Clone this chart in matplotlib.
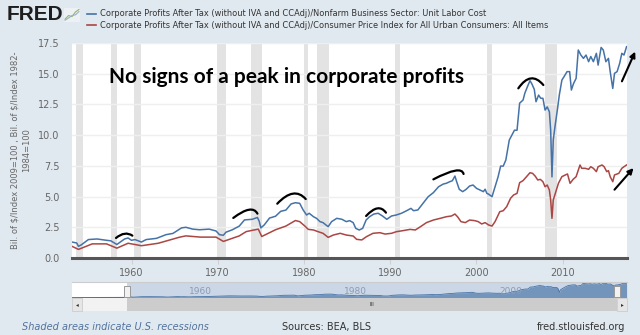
import numpy as np
import matplotlib
matplotlib.use('Agg')
import matplotlib.pyplot as plt
from matplotlib.patches import Rectangle, PathPatch
from matplotlib.path import Path

# Series (year, value)
blue_x = [1953.1, 1953.65, 1953.85, 1954.2, 1955.0, 1956.0, 1957.1, 1957.6, 1958.3, 1959.2, 1959.6, 1960.0,
          1960.4, 1961.15, 1961.7, 1962.9, 1964.0, 1964.8, 1965.8, 1966.3, 1967.1, 1967.9, 1969.0, 1969.8,
          1970.2, 1970.65, 1970.95, 1971.7, 1972.5, 1973.1, 1974.0, 1974.6, 1974.8, 1975.0, 1975.4, 1976.0,
          1976.7, 1977.3, 1977.9, 1978.5, 1979.0, 1979.5, 1979.9, 1980.3, 1980.6, 1981.1, 1981.45, 1981.85,
          1982.2, 1982.8, 1983.2, 1983.8, 1984.4, 1984.9, 1985.3, 1985.7, 1986.0, 1986.4, 1986.8, 1987.2,
          1987.6, 1988.1, 1988.6, 1989.1, 1989.6, 1990.15, 1990.7, 1991.3, 1991.9, 1992.4, 1992.7, 1993.2,
          1993.8, 1994.4, 1995.0, 1995.6, 1996.15, 1996.5, 1996.9, 1997.2, 1997.5, 1997.7, 1998.0, 1998.4,
          1998.8, 1999.2, 1999.6, 2000.0, 2000.4, 2000.8, 2001.0, 2001.2, 2001.4, 2001.8, 2002.15, 2002.5,
          2002.8, 2003.1, 2003.4, 2003.8, 2004.1, 2004.4, 2004.7, 2005.0, 2005.4, 2005.6, 2005.9, 2006.2,
          2006.4, 2006.7, 2006.9, 2007.2, 2007.45, 2007.7, 2007.95, 2008.2, 2008.45, 2008.6, 2008.75, 2008.9,
          2009.1, 2009.4, 2009.6, 2009.9, 2010.15, 2010.5, 2010.8, 2011.0, 2011.25, 2011.55, 2011.8, 2012.1,
          2012.4, 2012.7, 2013.0, 2013.25, 2013.55, 2013.9, 2014.1, 2014.45, 2014.7, 2015.0, 2015.3, 2015.5,
          2015.8, 2016.0, 2016.3, 2016.6, 2016.85, 2017.1, 2017.4]
blue_y = [1.3, 1.22, 0.95, 1.08, 1.5, 1.55, 1.44, 1.4, 1.1, 1.55, 1.63, 1.44,
          1.5, 1.3, 1.5, 1.6, 1.9, 2.0, 2.45, 2.5, 2.35, 2.3, 2.35, 2.2,
          1.9, 1.85, 2.1, 2.3, 2.6, 3.1, 3.15, 3.3, 3.0, 2.45, 2.7, 3.25,
          3.4, 3.8, 3.9, 4.4, 4.5, 4.45, 3.91, 3.5, 3.64, 3.36, 3.23, 2.96,
          2.88, 2.55, 2.96, 3.23, 3.15, 2.96, 3.04, 2.88, 2.41, 2.28, 2.41, 3.09,
          3.36, 3.58, 3.64, 3.42, 3.15, 3.42, 3.5, 3.64, 3.85, 4.04, 3.85, 3.91,
          4.45, 4.99, 5.32, 5.8, 6.02, 6.08, 6.21, 6.29, 6.67, 6.21, 5.59, 5.4,
          5.59, 5.86, 5.94, 5.67, 5.53, 5.4, 5.6, 5.26, 5.2, 4.99, 5.8, 6.6,
          7.48, 7.48, 7.97, 9.6, 10.0, 10.4, 10.4, 12.6, 12.86, 13.4, 13.94, 14.43,
          14.2, 13.73, 12.72, 13.26, 13.0, 13.0, 12.04, 12.3, 11.9, 10.4, 6.6, 9.6,
          10.7, 12.18, 13.26, 14.48, 14.76, 15.17, 15.17, 13.67, 14.2, 14.62, 16.93, 16.52,
          16.25, 16.52, 15.98, 16.4, 15.98, 16.66, 15.7, 17.14, 16.93, 15.98, 16.25, 15.17,
          13.8, 15.03, 15.17, 15.84, 16.66, 16.52, 17.2]

red_x = [1953.1, 1953.85, 1955.45, 1957.1, 1958.3, 1959.6, 1961.15, 1963.1, 1965.6, 1966.3, 1968.0, 1969.8,
         1970.65, 1972.5, 1973.3, 1974.7, 1975.1, 1976.7, 1977.9, 1979.0, 1979.5, 1980.1, 1980.5, 1981.1,
         1981.65, 1982.2, 1982.8, 1983.4, 1984.2, 1984.9, 1985.7, 1986.1, 1986.7, 1987.25, 1988.0, 1988.8,
         1989.4, 1990.15, 1990.7, 1991.5, 1992.3, 1992.9, 1993.4, 1994.2, 1995.0, 1995.8, 1996.5, 1997.1,
         1997.5, 1997.8, 1998.2, 1998.7, 1999.2, 1999.8, 2000.2, 2000.6, 2001.0, 2001.4, 2001.8, 2002.15,
         2002.7, 2003.1, 2003.5, 2003.95, 2004.3, 2004.7, 2005.0, 2005.4, 2005.8, 2006.2, 2006.5, 2006.8,
         2007.1, 2007.4, 2007.7, 2007.95, 2008.2, 2008.45, 2008.6, 2008.75, 2008.9, 2009.2, 2009.5, 2009.9,
         2010.3, 2010.55, 2010.85, 2011.2, 2011.55, 2012.0, 2012.2, 2012.6, 2013.0, 2013.25, 2013.55, 2013.9,
         2014.1, 2014.55, 2014.8, 2015.1, 2015.3, 2015.5, 2015.8, 2016.0, 2016.5, 2016.85, 2017.1, 2017.4]
red_y = [0.95, 0.7, 1.15, 1.15, 0.8, 1.2, 1.0, 1.2, 1.7, 1.8, 1.7, 1.7,
         1.35, 1.8, 2.15, 2.35, 1.75, 2.3, 2.6, 3.05, 2.96, 2.6, 2.33, 2.28,
         2.14, 2.01, 1.68, 1.87, 2.01, 1.87, 1.79, 1.52, 1.47, 1.74, 2.01, 2.06,
         1.95, 2.01, 2.14, 2.23, 2.33, 2.28, 2.5, 2.88, 3.09, 3.23, 3.36, 3.42,
         3.58, 3.36, 2.96, 2.88, 3.09, 3.04, 2.96, 2.77, 2.88, 2.69, 2.6, 2.96,
         3.77, 3.85, 4.18, 4.86, 5.13, 5.26, 6.13, 6.3, 6.62, 6.94, 6.89, 6.67,
         6.35, 6.4, 6.21, 5.8, 5.94, 5.53, 4.72, 3.23, 4.72, 5.4, 6.08, 6.62,
         6.76, 6.84, 6.08, 6.4, 6.62, 7.57, 7.3, 7.3, 7.22, 7.43, 7.3, 7.03,
         7.43, 7.57, 7.43, 7.03, 7.11, 6.62, 6.21, 6.76, 6.89, 7.3, 7.43, 7.57]

recessions = [(1953.6, 1954.35), (1957.6, 1958.3), (1960.3, 1961.1), (1969.9, 1970.9), (1973.9, 1975.1),
              (1980.0, 1980.5), (1981.5, 1982.85), (1990.5, 1991.15), (2001.2, 2001.85), (2007.9, 2009.35)]

# hand-drawn arcs: start, peak, end
arcs = [[(1958.2, 1.63), (1959.2, 1.98), (1960.1, 1.82)],
        [(1971.8, 3.26), (1973.6, 3.93), (1974.6, 3.61)],
        [(1976.9, 4.42), (1978.7, 5.24), (1980.2, 4.80)],
        [(1987.2, 3.42), (1988.5, 4.04), (1989.5, 3.69)],
        [(1995.0, 6.40), (1997.5, 7.11), (1998.5, 6.84)],
        [(2004.85, 13.81), (2006.3, 14.62), (2007.75, 14.08)]]
arrows = [((2016.86, 14.38), (2018.4, 16.8)), ((2016.0, 5.56), (2018.2, 7.32))]

yticks = [0.0, 2.5, 5.0, 7.5, 10.0, 12.5, 15.0, 17.5]
xticks = [1960, 1970, 1980, 1990, 2000, 2010]
nav_ticks = [1960, 1980, 2000]
legend_labels = ['Corporate Profits After Tax (without IVA and CCAdj)/Nonfarm Business Sector: Unit Labor Cost',
                 'Corporate Profits After Tax (without IVA and CCAdj)/Consumer Price Index for All Urban Consumers: All Items']
BLUE = '#4572a7'
RED = '#aa4643'
BG = '#e1e9f0'
W, H = 640, 335

fig = plt.figure(figsize=(6.4, 3.35), dpi=100, facecolor=BG)
ax = fig.add_axes([72 / W, (H - 258) / H, 555 / W, 215 / H])
ax.set_facecolor('white')
for a, b in recessions:
    ax.axvspan(a, b, color='#e3e3e3', lw=0, zorder=0)
for t in yticks[1:]:
    ax.axhline(t, color='#efefef', lw=1, zorder=0.5)
ax.plot(blue_x, blue_y, color=BLUE, lw=1.1, zorder=3)
ax.plot(red_x, red_y, color=RED, lw=1.1, zorder=3)
ax.set_xlim(1953.1, 2017.45)
ax.set_ylim(0, 17.5)
ax.set_yticks(yticks)
ax.set_yticklabels([f'{t:.1f}' for t in yticks])
ax.set_xticks(xticks)
ax.tick_params(axis='y', length=0, pad=9, labelsize=7, labelcolor='#666666')
ax.tick_params(axis='x', length=4, color='#d0d0d0', pad=3, labelsize=7, labelcolor='#666666')
for s in ['top', 'right', 'left']:
    ax.spines[s].set_visible(False)
ax.spines['bottom'].set_color('#555555')
ax.spines['bottom'].set_linewidth(2.2)
ax.set_ylabel('Bil. of \\$/Index 2009=100 , Bil. of \\$/Index 1982-\n1984=100', fontsize=6.0,
              color='#666666', labelpad=5, linespacing=1.3)

# annotations
for (p0, pk, p1) in arcs:
    p0, pk, p1 = np.array(p0), np.array(pk), np.array(p1)
    ctrl = 2 * pk - (p0 + p1) / 2
    path = Path([p0, ctrl, p1], [Path.MOVETO, Path.CURVE3, Path.CURVE3])
    ax.add_patch(PathPatch(path, fc='none', ec='black', lw=1.6, capstyle='round', zorder=5))
for (s, e) in arrows:
    ax.annotate('', xy=e, xytext=s, annotation_clip=False,
                arrowprops=dict(arrowstyle='-|>', color='black', lw=1.5, mutation_scale=8, shrinkA=0, shrinkB=0))
ax.text(1957.4, 14.75, 'No signs of a peak in corporate profits', fontsize=15, fontweight='bold',
        family=['Lato', 'DejaVu Sans'], color='black', va='center', ha='left', zorder=6)

# header
fig.text(7 / W, 1 - 15 / H, 'FRED', fontsize=15, fontweight='bold', color='#1e1e1e', va='center',
         family=['Liberation Sans', 'DejaVu Sans'])
icon = fig.add_axes([64 / W, 1 - 22 / H, 16 / W, 14 / H])
icon.set_facecolor('#eef1f4')
icon.plot([0, 1, 2, 3, 4], [0.5, 1.5, 1.2, 2.5, 3.2], color='#8fb86a', lw=0.8)
icon.plot([0, 1, 2, 3, 4], [0.2, 0.8, 1.5, 1.7, 2.6], color='#9ab0c8', lw=0.8)
icon.set_xlim(-0.3, 4.3)
icon.set_ylim(-0.3, 3.6)
icon.set_xticks([])
icon.set_yticks([])
for s in icon.spines.values():
    s.set_visible(False)
for i, (lab, col) in enumerate(zip(legend_labels, [BLUE, RED])):
    yy = 1 - (14 + 11 * i) / H
    fig.add_artist(plt.Line2D([87 / W, 96 / W], [yy, yy], color=col, lw=1.2))
    fig.text(100 / W, yy, lab, fontsize=5.95, color='#333333', va='center')

# navigator
nav = fig.add_axes([72 / W, (H - 298) / H, 555 / W, 16 / H])
nav.set_facecolor('white')
nav.set_xlim(1946.0, 2017.45)
nav.set_ylim(0, 18.5)
nav.plot([1946.0, 1953.1], [0.4, 0.6], color=BLUE, lw=0.8)
nav.fill_between(blue_x, 0, blue_y, color=BLUE, alpha=0.65, lw=0)
nav.plot(blue_x, blue_y, color=BLUE, lw=0.6)
nav.axvspan(1953.1, 2017.45, color=BLUE, alpha=0.28, lw=0)
for t in nav_ticks:
    nav.text(t + 2.5, 8, str(t), fontsize=6.5, color='#8a9bb5', ha='center', va='center')
nav.set_xticks([])
nav.set_yticks([])
for s in nav.spines.values():
    s.set_visible(False)
nav.spines['top'].set_visible(True)
nav.spines['top'].set_color('#cccccc')
for xh in [127, 617]:
    fig.add_artist(Rectangle((xh / W - 3 / W, 1 - 297 / H), 6 / W, 11 / H, fc='#f2f2f2', ec='#999999', lw=0.7))

# scrollbar
fig.add_artist(Rectangle((72 / W, (H - 311) / H), 555 / W, 13 / H, fc='#f2f2f2', ec='none'))
fig.add_artist(Rectangle((127 / W, (H - 311) / H), 490 / W, 13 / H, fc='#cccccc', ec='none'))
fig.add_artist(Rectangle((72 / W, (H - 311) / H), 10 / W, 13 / H, fc='#e6e6e6', ec='#cccccc', lw=0.6))
fig.add_artist(Rectangle((617 / W, (H - 311) / H), 10 / W, 13 / H, fc='#e6e6e6', ec='#cccccc', lw=0.6))
fig.text(77 / W, (H - 304.5) / H, '◂', fontsize=4, color='#333333', ha='center', va='center')
fig.text(622 / W, (H - 304.5) / H, '▸', fontsize=4, color='#333333', ha='center', va='center')
fig.text(372 / W, (H - 304.5) / H, 'III', fontsize=4, color='#333333', ha='center', va='center')

# footer
fig.text(22 / W, (H - 327) / H, 'Shaded areas indicate U.S. recessions', fontsize=7, style='italic',
         color='#52739e', va='center')
fig.text(327 / W, (H - 327) / H, 'Sources: BEA, BLS', fontsize=7, color='#333333', va='center', ha='center')
fig.text(625 / W, (H - 327) / H, 'fred.stlouisfed.org', fontsize=7, color='#333333', va='center', ha='right')

fig.savefig('out.png', dpi=100, facecolor=BG)
